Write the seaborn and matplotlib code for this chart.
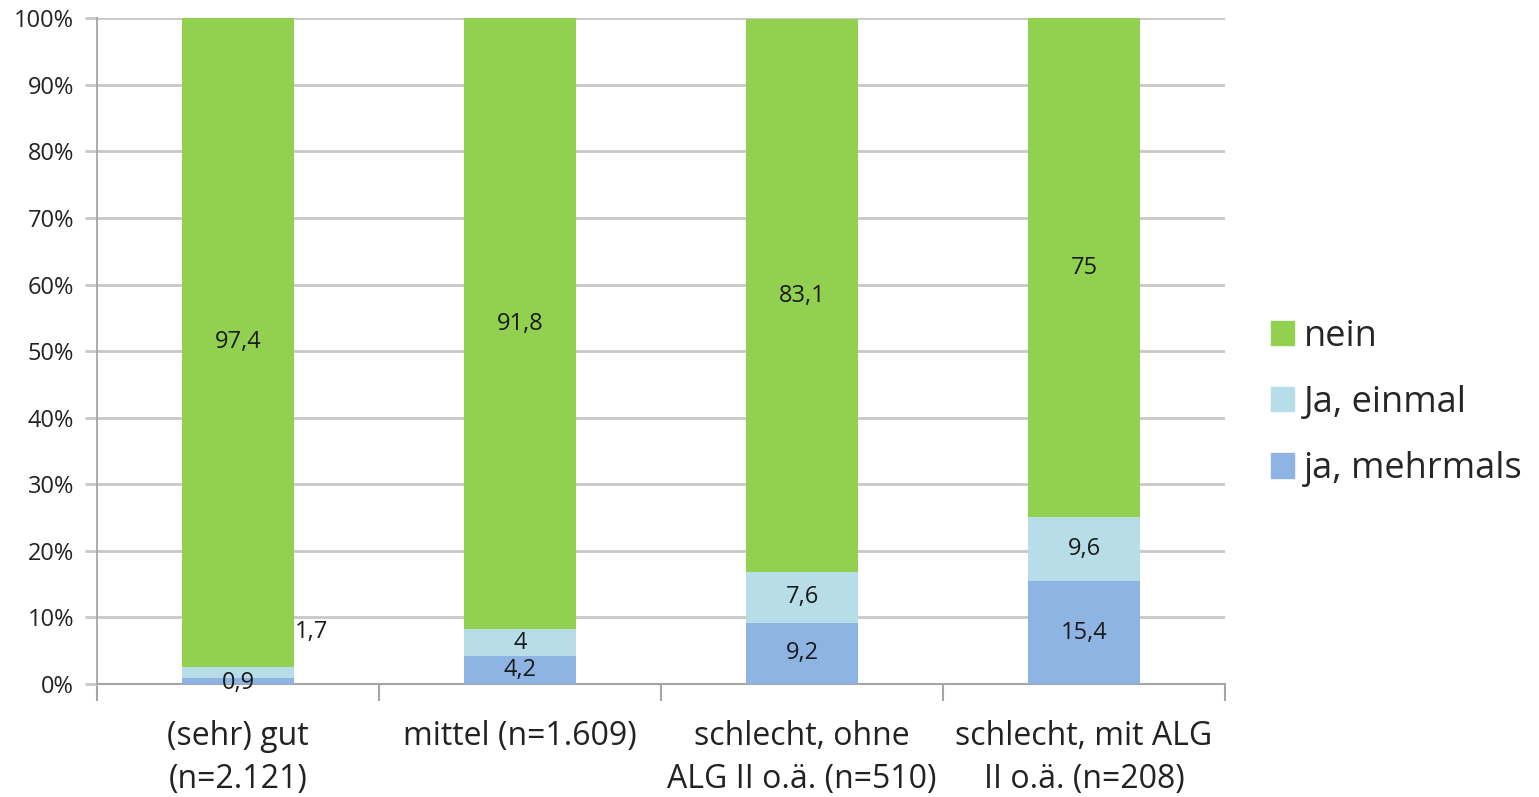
import numpy as np
import pandas as pd
import matplotlib.pyplot as plt
import seaborn as sns
from matplotlib.patches import Patch

# Daten
kategorien = ['(sehr) gut\n(n=2.121)', 'mittel (n=1.609)',
              'schlecht, ohne\nALG II o.ä. (n=510)', 'schlecht, mit ALG\nII o.ä. (n=208)']
ja_mehrmals = [0.9, 4.2, 9.2, 15.4]
ja_einmal = [1.7, 4.0, 7.6, 9.6]
nein = [97.4, 91.8, 83.1, 75.0]

farben = {'nein': '#92D050', 'Ja, einmal': '#B7DDE8', 'ja, mehrmals': '#8DB4E2'}

sns.set_style('white')
plt.rcParams['font.family'] = ['Open Sans', 'DejaVu Sans']

df = pd.DataFrame({'kat': kategorien, 'm': ja_mehrmals, 'e': ja_einmal, 'n': nein})
df['cum_m'] = df['m']
df['cum_e'] = df['m'] + df['e']
df['cum_n'] = df['cum_e'] + df['n']

fig = plt.figure(figsize=(15.39, 7.97), dpi=100)
ax = fig.add_axes([0.063, 0.142, 0.733, 0.835])

for spalte, name in [('cum_n', 'nein'), ('cum_e', 'Ja, einmal'), ('cum_m', 'ja, mehrmals')]:
    sns.barplot(data=df, x='kat', y=spalte, color=farben[name], width=0.4, ax=ax,
                saturation=1, linewidth=0, zorder=3)

# Beschriftungen
fmt = lambda v: ('%g' % v).replace('.', ',')
fs = 17
for i in range(len(df)):
    m, e, n = df.loc[i, ['m', 'e', 'n']]
    ax.text(i, m + e + n / 2, fmt(n), ha='center', va='center', fontsize=fs, color='#1a1a1a', zorder=4)
    if i == 0:
        ax.text(i + 0.2, 7.8, fmt(e), ha='left', va='center', fontsize=fs, color='#1a1a1a', zorder=4)
        ax.text(i, 0.1, fmt(m), ha='center', va='center', fontsize=fs, color='#1a1a1a', zorder=4)
    else:
        ax.text(i, m + e / 2, fmt(e), ha='center', va='center', fontsize=fs, color='#1a1a1a', zorder=4)
        ax.text(i, m / 2, fmt(m), ha='center', va='center', fontsize=fs, color='#1a1a1a', zorder=4)

ax.set_xlim(-0.5, 3.5)
ax.set_ylim(0, 100)
ax.set_yticks(np.arange(0, 101, 10))
ax.set_yticklabels([f'{v}%' for v in range(0, 101, 10)], fontsize=17, color='#222222')
ax.yaxis.grid(True, color='#C8C8C8', linewidth=2, zorder=0)
ax.set_axisbelow(True)
ax.set_xlabel('')
ax.set_ylabel('')
ax.tick_params(axis='x', labelsize=23, pad=26, length=0, colors='#222222')
ax.tick_params(axis='y', length=9, width=2, color='#C8C8C8', pad=7.5, left=True)
for t in ax.get_xticklabels():
    t.set_linespacing(1.4)
    t.set_va('top')

# Trennstriche zwischen Kategorien
ax.set_xticks(np.arange(-0.5, 4, 1), minor=True)
ax.tick_params(axis='x', which='minor', length=12, width=1.5, color='#A6A6A6', bottom=True, direction='out')

for s in ['top', 'right']:
    ax.spines[s].set_visible(False)
ax.spines['left'].set_color('#A6A6A6')
ax.spines['left'].set_linewidth(1.3)
ax.spines['bottom'].set_color('#A6A6A6')
ax.spines['bottom'].set_linewidth(1.5)

labels = ['nein', 'Ja, einmal', 'ja, mehrmals']
handles = [Patch(color=farben[k]) for k in labels]
leg = fig.legend(handles, labels, loc='center left',
                 bbox_to_anchor=(0.8045, 0.4945), frameon=False, fontsize=26,
                 handlelength=0.65, handleheight=0.65, handletextpad=0.28, labelspacing=0.84)

fig.savefig('out.png', dpi=100)
